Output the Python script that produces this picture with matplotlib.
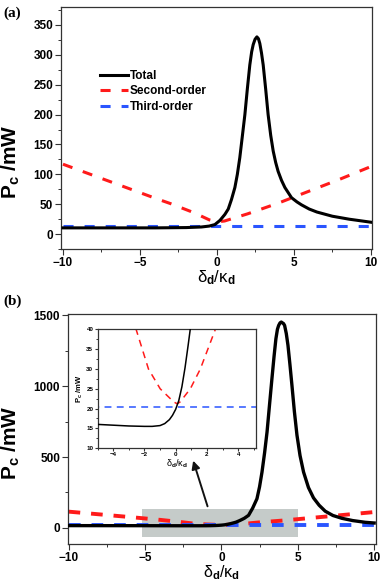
import matplotlib
matplotlib.use("Agg")
import matplotlib.pyplot as plt
from matplotlib.patches import Rectangle
from matplotlib.ticker import MultipleLocator

plt.rcParams['font.family'] = ['Liberation Sans', 'DejaVu Sans']
plt.rcParams['mathtext.fontset'] = 'custom'
plt.rcParams['mathtext.rm'] = 'Liberation Sans'
plt.rcParams['mathtext.bf'] = 'Liberation Sans:bold'
plt.rcParams['mathtext.it'] = 'Liberation Sans:italic'

# ---------------- data: panel (a) ----------------
xa_total = [-10, -8, -6, -4, -2, -1, -0.5, -0.13, 0.2, 0.52, 0.74, 0.95, 1.17, 1.33, 1.49,
            1.66, 1.82, 1.98, 2.14, 2.26, 2.36, 2.48, 2.6, 2.7, 2.79, 2.9, 3.01, 3.17, 3.33,
            3.5, 3.66, 3.82, 3.98, 4.2, 4.42, 4.85, 5.2, 5.5, 6.0, 6.5, 7.5, 8.6, 10]
ya_total = [10.5, 10.5, 10.5, 10.5, 11, 12, 13.5, 16, 23, 33, 42, 58, 78, 100, 128,
            165, 200, 243, 283, 305, 317, 326, 330, 327, 319, 303, 283, 243, 200,
            165, 139, 120, 105, 90, 78, 61, 54, 49, 42, 37, 30, 25, 20]
xa_second = [-10, -8, -6, -4, -3, -2, -1.5, -1, -0.5, 0, 0.5, 1, 1.5, 2, 3, 4, 6, 8, 10]
ya_second = [117, 98, 79, 60, 51, 41, 36, 30, 24, 20.5, 22, 26, 30, 34, 43, 52, 72, 92, 113]
xa_third = [-10, 10]
ya_third = [13, 13]

# ---------------- data: panel (b) ----------------
xb_total = [-10, -5, -3, -2, -1.5, -1, -0.7, -0.4, -0.2, 0, 0.2, 0.4, 0.6, 0.8, 0.95, 1.2,
            1.5, 1.78, 2.05, 2.33, 2.5, 2.66, 2.83, 2.99, 3.15, 3.31, 3.45, 3.57, 3.67, 3.75,
            3.84, 3.92, 4.0, 4.07, 4.14, 4.25, 4.36, 4.49, 4.62, 4.78, 4.95, 5.15, 5.38, 5.7,
            6.03, 6.4, 6.8, 7.3, 7.89, 8.6, 9.41, 10]
yb_total = [16.5, 16.0, 15.6, 15.5, 15.5, 15.7, 16.2, 17.2, 18.3, 19.8, 22, 25.5, 30.3, 36,
            40.5, 52, 68, 89, 140, 206, 290, 394, 530, 676, 865, 1052, 1210, 1333, 1400, 1427,
            1445, 1451, 1445, 1440, 1427, 1370, 1287, 1150, 1005, 820, 653, 510, 394, 285,
            212, 160, 118, 88, 68, 52, 40, 35]
xb_second = [-10, -8, -6, -4, -2.53, -1.74, -0.99, -0.13, 0.1, 0.29, 0.94, 1.58, 2.54, 4, 6, 8, 10]
yb_second = [115, 96, 77, 57, 40, 30, 25, 21.7, 21.2, 21.7, 25, 30, 40, 52, 72, 92, 112]
xb_third = [-10, 10]
yb_third = [20.5, 20.5]

legend_labels = ['Total', 'Second-order', 'Third-order']
zoom_box = [-5.2, -63, 10.2, 197]      # x0, y0, width, height (data units)
arrow_tail = [-0.85, 134]
arrow_head = [-1.9, 493]

RED = '#ff1a1a'
BLUE = '#2a55ff'
SPINE = '#333333'

fig = plt.figure(figsize=(3.81, 5.82), dpi=100)

xlab = 'δ$_{\\mathbf{d}}$/κ$_{\\mathbf{d}}$'
ylab = r'$\mathbf{P_c}$ $\mathbf{/mW}$'


def style_axes(ax, lab_size, major_len, minor_len):
    for s in ax.spines.values():
        s.set_color(SPINE)
        s.set_linewidth(0.9)
    ax.tick_params(which='major', direction='out', length=major_len, width=0.8,
                   color=SPINE, labelsize=lab_size, pad=1.5)
    ax.tick_params(which='minor', direction='out', length=minor_len, width=0.7, color=SPINE)
    for t in ax.get_xticklabels() + ax.get_yticklabels():
        t.set_fontweight('bold')


# ---------------- panel (a) ----------------
axa = fig.add_axes([0.160, 0.572, 0.816, 0.416])
axa.plot(xa_total, ya_total, color='black', lw=2.2, label=legend_labels[0], zorder=3)
axa.plot(xa_second, ya_second, color=RED, lw=2.2, dashes=(3.3, 3.6), label=legend_labels[1], zorder=2)
axa.plot(xa_third, ya_third, color=BLUE, lw=2.2, dashes=(3.3, 3.6), label=legend_labels[2], zorder=2)
axa.set_xlim(-10.13, 10.07)
axa.set_ylim(-25, 380)
axa.xaxis.set_major_locator(MultipleLocator(5))
axa.xaxis.set_minor_locator(MultipleLocator(2.5))
axa.yaxis.set_major_locator(MultipleLocator(50))
axa.yaxis.set_minor_locator(MultipleLocator(25))
style_axes(axa, 8.5, 4, 2.5)
axa.set_xlabel(xlab, fontsize=12, labelpad=0)
axa.set_ylabel(ylab, fontsize=15)
axa.yaxis.set_label_coords(-0.125, 0.36)
leg = axa.legend(loc='upper left', bbox_to_anchor=(0.11, 0.76), frameon=False,
                 prop={'weight': 'bold', 'size': 8.5}, handlelength=2.4,
                 handletextpad=0.15, labelspacing=0.3, borderaxespad=0)
fig.text(0.008, 0.978, '(a)', fontsize=11, fontweight='bold',
         family=['Liberation Serif', 'DejaVu Serif'], va='center')

# ---------------- panel (b) ----------------
axb = fig.add_axes([0.178, 0.0653, 0.808, 0.395])
axb.add_patch(Rectangle((zoom_box[0], zoom_box[1]), zoom_box[2], zoom_box[3],
                        facecolor='#c5cbc9', edgecolor='none', zorder=1))
axb.plot(xb_total, yb_total, color='black', lw=2.4, zorder=3)
axb.plot(xb_second, yb_second, color=RED, lw=2.8, dashes=(3.0, 2.8), zorder=2)
axb.plot(xb_third, yb_third, color=BLUE, lw=2.8, dashes=(3.0, 2.8), zorder=2)
axb.set_xlim(-10.05, 10.1)
axb.set_ylim(-113, 1507)
axb.xaxis.set_major_locator(MultipleLocator(5))
axb.xaxis.set_minor_locator(MultipleLocator(2.5))
axb.yaxis.set_major_locator(MultipleLocator(500))
axb.yaxis.set_minor_locator(MultipleLocator(250))
style_axes(axb, 8.5, 4, 2.5)
axb.set_xlabel(xlab, fontsize=11.5, labelpad=0)
axb.set_ylabel(ylab, fontsize=15)
axb.yaxis.set_label_coords(-0.15, 0.44)
axb.annotate('', xy=(arrow_head[0], arrow_head[1]), xytext=(arrow_tail[0], arrow_tail[1]),
             arrowprops=dict(arrowstyle='-|>', lw=1.4, color='#111111', mutation_scale=12),
             zorder=4)
fig.text(0.008, 0.483, '(b)', fontsize=11, fontweight='bold',
         family=['Liberation Serif', 'DejaVu Serif'], va='center')

# ---------------- inset ----------------
axi = fig.add_axes([0.256, 0.230, 0.417, 0.204])
axi.plot(xb_total, yb_total, color='black', lw=1.1, zorder=3)
axi.plot(xb_second, yb_second, color=RED, lw=1.1, dashes=(4.5, 3.5), zorder=2)
axi.plot(xb_third, yb_third, color=BLUE, lw=1.1, dashes=(4.5, 3.5), zorder=2)
axi.set_xlim(-5.0, 5.17)
axi.set_ylim(10, 40)
axi.xaxis.set_major_locator(MultipleLocator(2))
axi.xaxis.set_minor_locator(MultipleLocator(1))
axi.yaxis.set_major_locator(MultipleLocator(5))
axi.yaxis.set_minor_locator(MultipleLocator(2.5))
style_axes(axi, 4.5, 2, 1.2)
axi.tick_params(which='both', pad=1)
axi.set_xlabel(xlab, fontsize=6.5, labelpad=0)
axi.set_ylabel(ylab, fontsize=5.5, labelpad=1)

fig.savefig('out.png', dpi=100)
